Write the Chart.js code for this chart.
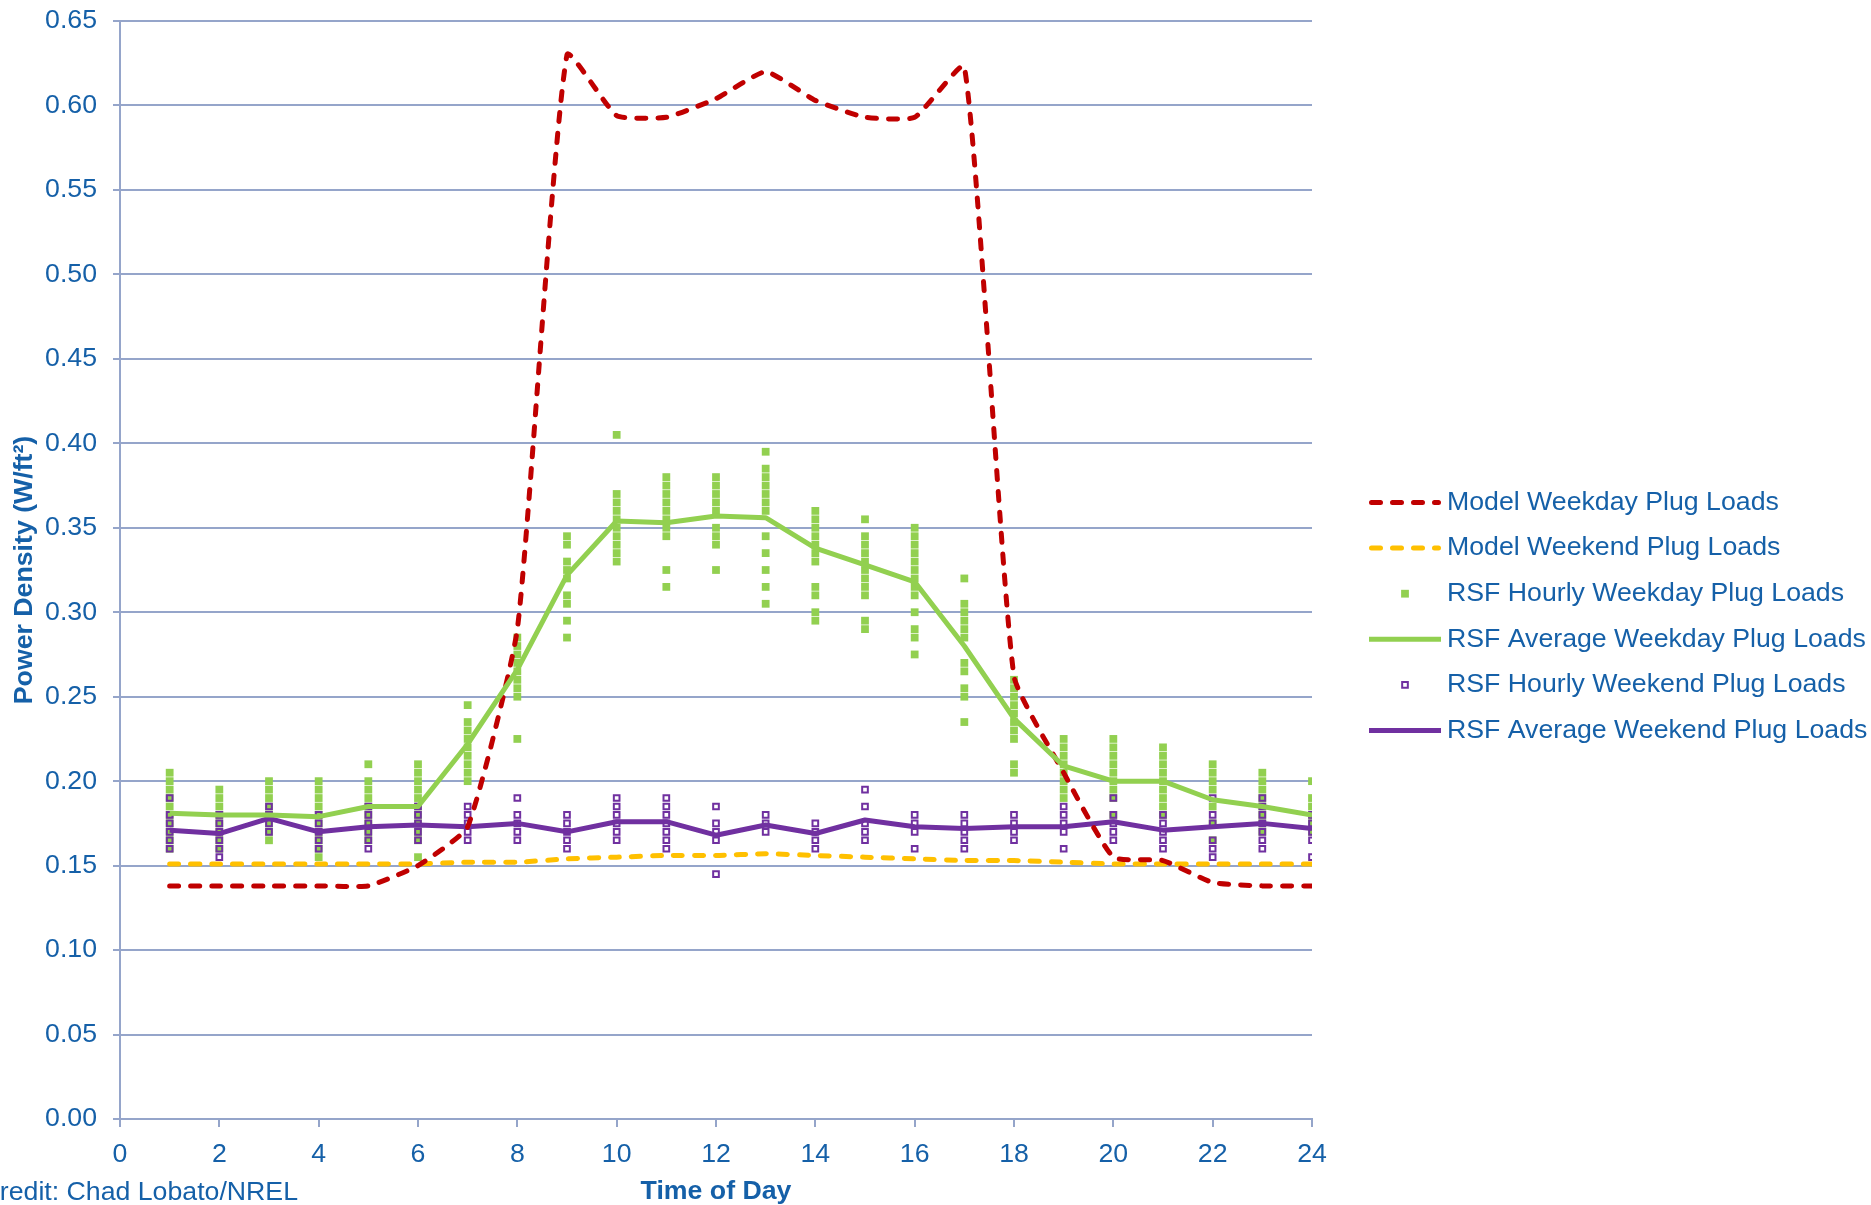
<!DOCTYPE html>
<html>
<head>
<meta charset="utf-8">
<script src="https://cdn.jsdelivr.net/npm/chart.js@4.4.1/dist/chart.umd.min.js"></script>
<style>
  html, body { margin: 0; padding: 0; background: #fff; }
  #wrap { width: 1871px; height: 1205px; position: relative; }
</style>
</head>
<body>
<div id="wrap"><canvas id="plugChart"></canvas></div>
<script>
// hour of day for each model / average value
const hours = [1, 2, 3, 4, 5, 6, 7, 8, 9, 10, 11, 12, 13, 14, 15, 16, 17, 18, 19, 20, 21, 22, 23, 24];

const modelWeekday = [0.138, 0.138, 0.138, 0.138, 0.138, 0.150, 0.173, 0.290, 0.630, 0.594, 0.593, 0.604,
                      0.620, 0.603, 0.593, 0.593, 0.623, 0.262, 0.205, 0.155, 0.153, 0.140, 0.138, 0.138];
const modelWeekend = [0.151, 0.151, 0.151, 0.151, 0.151, 0.151, 0.152, 0.152, 0.154, 0.155, 0.156, 0.156,
                      0.157, 0.156, 0.155, 0.154, 0.153, 0.153, 0.152, 0.151, 0.151, 0.151, 0.151, 0.151];
const avgWeekday = [0.181, 0.180, 0.180, 0.179, 0.185, 0.185, 0.222, 0.266, 0.322, 0.354, 0.353, 0.357,
                    0.356, 0.338, 0.328, 0.318, 0.280, 0.237, 0.209, 0.200, 0.200, 0.189, 0.185, 0.180];
const avgWeekend = [0.171, 0.169, 0.178, 0.170, 0.173, 0.174, 0.173, 0.175, 0.170, 0.176, 0.176, 0.168,
                    0.174, 0.169, 0.177, 0.173, 0.172, 0.173, 0.173, 0.176, 0.171, 0.173, 0.175, 0.172];

// measured hourly values, one list per hour (1..24)
const hourlyWeekday = [
  [0.205, 0.20, 0.195, 0.19, 0.185, 0.18, 0.175, 0.17, 0.165, 0.16],
  [0.195, 0.19, 0.185, 0.18, 0.175, 0.17, 0.165, 0.16],
  [0.20, 0.195, 0.19, 0.185, 0.18, 0.175, 0.17, 0.165],
  [0.20, 0.195, 0.19, 0.185, 0.18, 0.175, 0.17, 0.165, 0.16, 0.155],
  [0.21, 0.20, 0.195, 0.19, 0.185, 0.18, 0.175, 0.17, 0.165],
  [0.21, 0.205, 0.20, 0.195, 0.19, 0.185, 0.18, 0.175, 0.17, 0.165, 0.155],
  [0.245, 0.235, 0.23, 0.225, 0.22, 0.215, 0.21, 0.205, 0.20],
  [0.285, 0.28, 0.275, 0.27, 0.265, 0.26, 0.255, 0.25, 0.225],
  [0.345, 0.34, 0.33, 0.325, 0.32, 0.31, 0.305, 0.295, 0.285],
  [0.405, 0.37, 0.365, 0.36, 0.355, 0.35, 0.345, 0.34, 0.335, 0.33],
  [0.38, 0.375, 0.37, 0.365, 0.36, 0.355, 0.35, 0.345, 0.325, 0.315],
  [0.38, 0.375, 0.37, 0.365, 0.36, 0.35, 0.345, 0.34, 0.325],
  [0.395, 0.385, 0.38, 0.375, 0.37, 0.365, 0.36, 0.345, 0.335, 0.325, 0.315, 0.305],
  [0.36, 0.355, 0.35, 0.345, 0.34, 0.335, 0.33, 0.315, 0.31, 0.30, 0.295],
  [0.355, 0.345, 0.34, 0.335, 0.33, 0.325, 0.32, 0.315, 0.31, 0.295, 0.29],
  [0.35, 0.345, 0.34, 0.335, 0.33, 0.325, 0.32, 0.315, 0.31, 0.30, 0.29, 0.285, 0.275],
  [0.32, 0.305, 0.30, 0.295, 0.29, 0.285, 0.27, 0.265, 0.255, 0.25, 0.235],
  [0.26, 0.255, 0.25, 0.245, 0.24, 0.235, 0.23, 0.225, 0.21, 0.205],
  [0.225, 0.22, 0.215, 0.21, 0.205, 0.20, 0.195, 0.19],
  [0.225, 0.22, 0.215, 0.21, 0.205, 0.20, 0.195, 0.19, 0.18],
  [0.22, 0.215, 0.21, 0.205, 0.20, 0.195, 0.19, 0.185, 0.18],
  [0.21, 0.205, 0.20, 0.195, 0.185, 0.175, 0.165],
  [0.205, 0.20, 0.195, 0.19, 0.185, 0.18, 0.175, 0.17],
  [0.20, 0.19, 0.185, 0.18, 0.175, 0.17]
];
const hourlyWeekend = [
  [0.19, 0.18, 0.175, 0.17, 0.165, 0.16],
  [0.18, 0.175, 0.17, 0.165, 0.16, 0.155],
  [0.185, 0.18, 0.175, 0.17],
  [0.18, 0.175, 0.17, 0.165, 0.16],
  [0.185, 0.18, 0.175, 0.17, 0.165, 0.16],
  [0.185, 0.18, 0.175, 0.17, 0.165],
  [0.185, 0.18, 0.175, 0.17, 0.165],
  [0.19, 0.18, 0.175, 0.17, 0.165],
  [0.18, 0.175, 0.17, 0.165, 0.16],
  [0.19, 0.185, 0.18, 0.175, 0.17, 0.165],
  [0.19, 0.185, 0.18, 0.175, 0.17, 0.165, 0.16],
  [0.185, 0.175, 0.17, 0.165, 0.145],
  [0.18, 0.175, 0.17],
  [0.175, 0.17, 0.165, 0.16],
  [0.195, 0.185, 0.175, 0.17, 0.165],
  [0.18, 0.175, 0.17, 0.16],
  [0.18, 0.175, 0.17, 0.165, 0.16],
  [0.18, 0.175, 0.17, 0.165],
  [0.185, 0.18, 0.175, 0.17, 0.16],
  [0.19, 0.18, 0.175, 0.17, 0.165],
  [0.18, 0.175, 0.17, 0.165, 0.16],
  [0.19, 0.18, 0.175, 0.165, 0.16, 0.155],
  [0.19, 0.185, 0.18, 0.175, 0.17, 0.165, 0.16],
  [0.18, 0.175, 0.17, 0.165, 0.155]
];

const seriesNames = [
  "Model Weekday Plug Loads",
  "Model Weekend Plug Loads",
  "RSF Hourly Weekday Plug Loads",
  "RSF Average Weekday Plug Loads",
  "RSF Hourly Weekend Plug Loads",
  "RSF Average Weekend Plug Loads"
];

const TEXT_BLUE = "#1560a8";
const GRID = "#95a5ca";
const FONT = "'Liberation Sans', Arial, sans-serif";
const FONT_SIZE = 26.7;

Chart.defaults.font.family = FONT;
Chart.defaults.font.size = FONT_SIZE;
Chart.defaults.color = TEXT_BLUE;

const toLine = vals => vals.map((v, i) => ({ x: hours[i], y: v }));
const toPoints = lists => lists.flatMap((vals, i) => vals.map(v => ({ x: hours[i], y: v })));

// legend drawn on the right, reads each dataset's own style
const sideLegend = {
  id: "sideLegend",
  afterDraw(chart, args, opts) {
    const ctx = chart.ctx;
    ctx.save();
    chart.data.datasets.forEach((ds, i) => {
      const y = opts.top + i * opts.spacing;
      const x0 = opts.left, x1 = opts.left + opts.sampleWidth;
      if (ds.showLine) {
        ctx.save();
        ctx.strokeStyle = ds.borderColor;
        ctx.lineWidth = ds.borderWidth;
        ctx.lineCap = ds.borderCapStyle || "butt";
        ctx.setLineDash(ds.borderDash || []);
        ctx.beginPath();
        const inset = ds.borderDash ? ds.borderWidth / 2 : 0;
        ctx.moveTo(x0 + inset, y);
        ctx.lineTo(x1 - inset, y);
        ctx.stroke();
        ctx.restore();
      } else {
        const cx = (x0 + x1) / 2;
        const half = ds.pointRadius * Math.SQRT1_2;
        ctx.beginPath();
        ctx.rect(cx - half, y - half, half * 2, half * 2);
        if (ds.pointBorderWidth > 0) {
          ctx.lineWidth = ds.pointBorderWidth;
          ctx.strokeStyle = ds.pointBorderColor;
          ctx.stroke();
        } else {
          ctx.fillStyle = ds.pointBackgroundColor;
          ctx.fill();
        }
      }
      ctx.font = `${opts.fontSize}px ${FONT}`;
      ctx.fillStyle = TEXT_BLUE;
      ctx.textAlign = "left";
      ctx.textBaseline = "middle";
      ctx.fillText(ds.label, opts.textX, y);
    });
    ctx.restore();
  }
};

const creditNote = {
  id: "creditNote",
  afterDraw(chart, args, opts) {
    const ctx = chart.ctx;
    ctx.save();
    ctx.font = `${opts.fontSize}px ${FONT}`;
    ctx.fillStyle = TEXT_BLUE;
    ctx.textAlign = "right";
    ctx.textBaseline = "middle";
    ctx.fillText(opts.text, opts.right, opts.y);
    ctx.restore();
  }
};

const ctx = document.getElementById("plugChart").getContext("2d");

new Chart(ctx, {
  type: "scatter",
  data: {
    datasets: [
      {
        label: seriesNames[0],
        data: toLine(modelWeekday),
        showLine: true,
        borderColor: "#c00000",
        borderWidth: 5,
        borderDash: [9, 12],
        borderCapStyle: "round",
        borderJoinStyle: "round",
        tension: 0.15,
        pointRadius: 0,
        order: 2
      },
      {
        label: seriesNames[1],
        data: toLine(modelWeekend),
        showLine: true,
        borderColor: "#ffc000",
        borderWidth: 5,
        borderDash: [9, 12],
        borderCapStyle: "round",
        borderJoinStyle: "round",
        tension: 0.2,
        pointRadius: 0,
        order: 6
      },
      {
        label: seriesNames[2],
        data: toPoints(hourlyWeekday),
        pointStyle: "rect",
        pointRadius: 5.5,
        pointBackgroundColor: "#92d050",
        pointBorderColor: "#92d050",
        pointBorderWidth: 0,
        order: 5
      },
      {
        label: seriesNames[3],
        data: toLine(avgWeekday),
        showLine: true,
        borderColor: "#92d050",
        borderWidth: 5,
        borderJoinStyle: "round",
        pointRadius: 0,
        order: 1
      },
      {
        label: seriesNames[4],
        data: toPoints(hourlyWeekend),
        pointStyle: "rect",
        pointRadius: 4,
        pointBackgroundColor: "rgba(255,255,255,0)",
        pointBorderColor: "#7030a0",
        pointBorderWidth: 2,
        order: 4
      },
      {
        label: seriesNames[5],
        data: toLine(avgWeekend),
        showLine: true,
        borderColor: "#7030a0",
        borderWidth: 5,
        borderJoinStyle: "round",
        pointRadius: 0,
        order: 3
      }
    ]
  },
  options: {
    responsive: true,
    maintainAspectRatio: false,
    animation: false,
    layout: { padding: { left: 0, right: 559, top: 21, bottom: 0 } },
    plugins: {
      legend: { display: false },
      tooltip: { enabled: false },
      sideLegend: { left: 1369, sampleWidth: 72, textX: 1447, top: 502.5, spacing: 45.6, fontSize: FONT_SIZE },
      creditNote: { text: "Credit: Chad Lobato/NREL", right: 298, y: 1193, fontSize: FONT_SIZE }
    },
    scales: {
      x: {
        type: "linear",
        min: 0,
        max: 24,
        ticks: { stepSize: 2, padding: 12, maxRotation: 0, color: TEXT_BLUE },
        grid: { drawOnChartArea: false, color: GRID, lineWidth: 2, tickLength: 8 },
        border: { color: GRID, width: 2 },
        title: {
          display: true,
          text: "Time of Day",
          color: TEXT_BLUE,
          font: { size: FONT_SIZE, weight: "bold", lineHeight: 1 },
          padding: { top: 0, bottom: 0 }
        },
        afterFit: scale => {
          scale.height = 86;
          scale.paddingLeft = 0;
          scale.paddingRight = 0;
        }
      },
      y: {
        min: 0,
        max: 0.65,
        ticks: { stepSize: 0.05, padding: 16, color: TEXT_BLUE, callback: v => v.toFixed(2) },
        grid: { color: GRID, lineWidth: 2, tickLength: 7 },
        border: { color: GRID, width: 2 },
        title: {
          display: true,
          text: "Power Density (W/ft²)",
          color: TEXT_BLUE,
          font: { size: FONT_SIZE, weight: "bold" },
          padding: { top: 8.5, bottom: 0 }
        },
        afterFit: scale => {
          scale.width = 120;
          scale.paddingTop = 0;
          scale.paddingBottom = 0;
        }
      }
    }
  },
  plugins: [sideLegend, creditNote]
});
</script>
</body>
</html>
